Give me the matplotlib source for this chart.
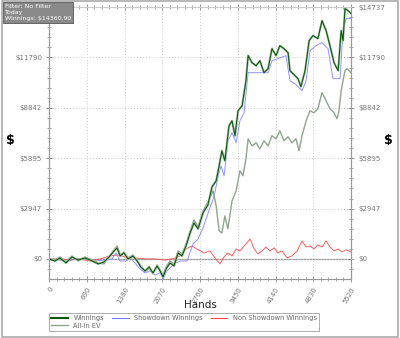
import matplotlib
matplotlib.use("Agg")
import matplotlib.pyplot as plt
from matplotlib.patches import Rectangle
from matplotlib.ticker import MultipleLocator, FixedLocator

# -----------------------------
# Data
# -----------------------------
win_hands = [0, 110, 200, 310, 420, 530, 660, 790, 900, 1005, 1115, 1190, 1245, 1300,
             1370, 1445, 1535, 1610, 1680, 1755, 1830, 1900, 1975, 2030, 2085, 2140,
             2210, 2285, 2360, 2430, 2505, 2580, 2650, 2725, 2815, 2905, 2980, 3055,
             3110, 3160, 3215, 3290, 3345, 3400, 3455, 3530, 3600, 3640, 3710, 3785,
             3855, 3930, 4005, 4075, 4150, 4220, 4295, 4370, 4405, 4480, 4550, 4605,
             4680, 4755, 4825, 4915, 4990, 5065, 5135, 5210, 5285, 5340, 5375, 5410,
             5465, 5520]
winnings = [0, -120, 60, -230, 120, -60, 60, -120, -290, -175, 175, 470, 645, 175,
            350, 0, 175, -120, -470, -700, -470, -820, -410, -700, -1055, -585,
            -235, -410, 350, 175, 760, 1525, 2110, 1760, 2695, 3165, 4220, 4570,
            5450, 6330, 5745, 7795, 8085, 7210, 8670, 8965, 10430, 11900, 11485, 11310,
            11600, 10900, 11135, 12305, 11900, 12480, 12305, 12070, 11015, 10780, 10550, 10080,
            11015, 12775, 13070, 12890, 13945, 13360, 12480, 11485, 11015, 13360, 12775, 14650,
            14530, 14360]

ev_hands = [0, 110, 200, 310, 420, 530, 660, 790, 900, 1005, 1115, 1190, 1245, 1300,
            1370, 1445, 1535, 1610, 1680, 1755, 1830, 1900, 1975, 2030, 2085, 2140,
            2210, 2285, 2360, 2430, 2505, 2580, 2650, 2725, 2815, 2905, 3000, 3055,
            3110, 3160, 3215, 3270, 3345, 3420, 3490, 3545, 3600, 3640, 3710, 3785,
            3855, 3930, 4005, 4075, 4150, 4220, 4295, 4370, 4440, 4515, 4570, 4625,
            4700, 4770, 4845, 4915, 4990, 5065, 5135, 5210, 5265, 5300, 5340, 5375,
            5410, 5450, 5520]
all_in_ev = [0, -60, 120, -175, 175, -120, 120, -60, -235, -290, 235, 530, 760, 235,
             410, 60, 235, -60, -410, -760, -530, -880, -350, -640, -940, -470,
             -120, -290, 470, 290, 880, 1640, 2290, 1880, 2810, 3340, 3985, 3105,
             1640, 1525, 2520, 1760, 3400, 3985, 5155, 4865, 5860, 7030, 6620, 6800,
             6445, 6915, 6620, 7210, 7030, 7500, 6915, 7150, 6800, 7030, 6330, 7210,
             8085, 8670, 8555, 8790, 9730, 9260, 8790, 8555, 8205, 8670, 9845, 10430,
             11015, 11135, 10900]

sd_hands = [0, 200, 310, 475, 660, 840, 1005, 1150, 1225, 1300, 1410, 1480, 1570,
            1665, 1755, 1845, 1940, 2030, 2085, 2155, 2250, 2320, 2395, 2525, 2630,
            2725, 2815, 2940, 3015, 3090, 3145, 3200, 3270, 3345, 3420, 3490, 3565,
            3640, 3855, 4005, 4075, 4185, 4330, 4405, 4515, 4625, 4700, 4770, 4880,
            4990, 5100, 5190, 5320, 5375, 5430, 5520]
showdown = [0, -60, -175, 0, 0, -120, -60, 0, 350, -120, -120, 60, -235,
            -585, -820, -700, -940, -820, -1170, -700, -410, -235, -120, -120, 880,
            1170, 1815, 2990, 3635, 4805, 5450, 4865, 6915, 7385, 6800, 8085, 8555,
            10900, 10900, 10900, 11600, 11720, 11895, 10430, 10200, 9845, 10430, 12190, 12480,
            12660, 12305, 10550, 10550, 13360, 14065, 14065]

nsd_hands = [0, 200, 385, 565, 750, 930, 1115, 1260, 1390, 1570, 1755, 1940, 2120,
             2250, 2395, 2505, 2615, 2725, 2835, 2940, 3035, 3125, 3200, 3270, 3345,
             3420, 3490, 3585, 3675, 3750, 3820, 3895, 3965, 4040, 4115, 4185, 4260,
             4350, 4440, 4535, 4625, 4700, 4770, 4845, 4915, 4990, 5065, 5135, 5210,
             5285, 5355, 5430, 5520]
non_showdown = [0, 0, -60, 0, -120, 0, 175, 235, 120, 60, 0, 0, -60,
                0, 175, 585, 760, 530, 350, 470, 60, -290, 120, 350, 175,
                585, 470, 820, 1170, 585, 290, 470, 700, 470, 645, 350, 470,
                60, 175, 470, 1055, 700, 760, 585, 820, 700, 1055, 700, 470,
                585, 410, 530, 410]

x_ticks = [0, 690, 1380, 2070, 2760, 3450, 4140, 4830, 5520]
y_ticks = [0, 2947, 5895, 8842, 11790, 14737]

# -----------------------------
# Figure
# -----------------------------
fig = plt.figure(figsize=(4, 3.38), dpi=100)
fig.patch.set_facecolor("white")
fig.patches.append(Rectangle((0.004, 0.004), 0.992, 0.992, transform=fig.transFigure,
                             fill=False, edgecolor="#aaaaaa", linewidth=1.2))

ax = fig.add_axes([0.1225, 0.1746, 0.755, 0.8044])

ax.axhline(0, color="#999999", linewidth=0.9, zorder=1)
ax.plot(nsd_hands, non_showdown, color="#ff4444", linewidth=0.7, alpha=0.85, zorder=2)
ax.plot(sd_hands, showdown, color="#7777ff", linewidth=0.7, alpha=0.8, zorder=3)
ax.plot(ev_hands, all_in_ev, color="#8fa58f", linewidth=1.0, zorder=4)
ax.plot(win_hands, winnings, color="#b0c2b0", linewidth=1.6, zorder=5)
ax.plot(win_hands, winnings, color="#0b5a0b", linewidth=0.8, zorder=6)

ax.set_xlim(0, 5520)
ax.set_ylim(-1172, 14737)

ax.xaxis.set_major_locator(FixedLocator(x_ticks))
ax.xaxis.set_minor_locator(MultipleLocator(138))
ax.yaxis.set_major_locator(FixedLocator(y_ticks))
ax.yaxis.set_minor_locator(MultipleLocator(2947.4 / 5))

ax.set_xticklabels([str(v) for v in x_ticks], rotation=60, fontsize=5,
                   color="#777777", ha="right", va="top")
# the top-left label sits under the info box in the original
ax.set_yticklabels(["$" + str(v) for v in y_ticks[:-1]] + [""], fontsize=5, color="#777777")
ax.tick_params(which="both", direction="inout", color="#888888", top=True, right=True, pad=3)
ax.tick_params(which="major", length=4, width=0.6)
ax.tick_params(which="minor", length=3, width=0.5)
for lbl in ax.get_xticklabels():
    lbl.set_rotation_mode("anchor")

# right-hand labels
axr = ax.twinx()
axr.set_ylim(ax.get_ylim())
axr.yaxis.set_major_locator(FixedLocator(y_ticks))
axr.yaxis.set_minor_locator(MultipleLocator(2947.4 / 5))
axr.set_yticklabels(["$" + str(v) for v in y_ticks], fontsize=5, color="#777777")
axr.tick_params(which="both", direction="inout", color="#888888", pad=3)
axr.tick_params(which="major", length=4, width=0.6)
axr.tick_params(which="minor", length=3, width=0.5)

ax.grid(which="major", linestyle=(0, (1, 2)), color="#cccccc", linewidth=0.7)
for a in (ax, axr):
    for s in a.spines.values():
        s.set_color("#999999")
        s.set_linewidth(0.8)
    a.spines["top"].set_color("#cccccc")

fig.text(0.025, 0.585, "$", fontsize=9, fontweight="bold", ha="center", va="center")
fig.text(0.972, 0.585, "$", fontsize=9, fontweight="bold", ha="center", va="center")
fig.text(0.5, 0.098, "Hands", fontsize=7.5, ha="center", va="center", color="#222222")

# info box top-left
fig.text(0.012, 0.988,
         "Filter: No Filter\nToday\nWinnings: $14360.90",
         fontsize=4.5, color="white", ha="left", va="top", linespacing=1.25,
         bbox=dict(boxstyle="square,pad=0.3", facecolor="#8a8a8a", edgecolor="#555555",
                   linewidth=0.6))

# legend
handles = [
    plt.Line2D([], [], color="#0b5a0b", linewidth=1.5),
    plt.Line2D([], [], color="#8fa58f", linewidth=1.0),
    plt.Line2D([], [], color="#7777ff", linewidth=0.8),
    plt.Line2D([], [], color="#ff4444", linewidth=0.8),
]
labels = ["Winnings", "All-In EV", "Showdown Winnings", "Non Showdown Winnings"]
leg = fig.legend(handles, labels, ncol=3, loc="upper left",
                 bbox_to_anchor=(0.1225, 0.074), borderaxespad=0, fontsize=4.8,
                 frameon=True, fancybox=False, edgecolor="#888888", handlelength=2.5,
                 columnspacing=1.2, handletextpad=0.8, borderpad=0.35,
                 labelspacing=0.2, labelcolor="#666666")
leg.get_frame().set_linewidth(0.6)

fig.savefig("out.png", dpi=100)
